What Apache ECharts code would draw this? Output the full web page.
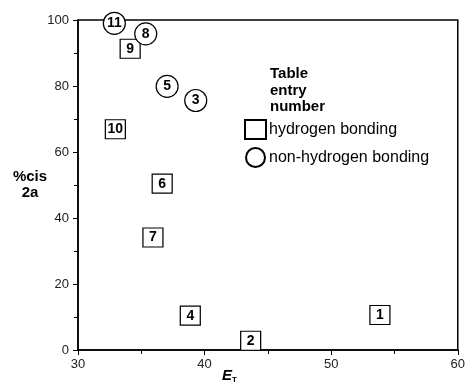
<!DOCTYPE html>
<html>
<head>
<meta charset="utf-8">
<script src="https://cdn.jsdelivr.net/npm/echarts@6/dist/echarts.min.js"></script>
<style>
html,body{margin:0;padding:0;background:#fff}
#main{width:468px;height:383px}
</style>
</head>
<body>
<div id="main"></div>
<script>
// table entries, hydrogen bonding solvents (squares)
var hbEntry = ['1', '2', '4', '6', '7', '9', '10']
var hbET = [53.85, 43.64, 38.87, 36.65, 35.92, 34.12, 32.95]
var hbCis = [10.6, 2.8, 10.4, 50.4, 34.1, 91.3, 66.9]
// non-hydrogen bonding solvents (circles)
var nhbEntry = ['3', '5', '8', '11']
var nhbET = [39.3, 37.04, 35.35, 32.87]
var nhbCis = [75.6, 79.9, 95.8, 99.0]

var xTicks = [30, 40, 50, 60]
var yTicks = [0, 20, 40, 60, 80, 100]

function pts(names, xs, ys){
	var out = []
	for (var i = 0; i < names.length; i++) {
		out.push({name: names[i], value: [xs[i], ys[i]]})
	}
	return out
}

var chart = echarts.init(document.getElementById('main'))

var pointLabel = {
	show: true,
	position: 'inside',
	formatter: '{b}',
	color: '#000',
	fontFamily: 'Liberation Sans',
	fontWeight: 'bold',
	fontSize: 14
}

option = {
	animation: false,
	title: {
		text: 'Table\nentry\nnumber',
		left: 270,
		top: 66,
		padding: 0,
		textStyle: {
			fontFamily: 'Liberation Sans',
			fontWeight: 'bold',
			fontSize: 15,
			lineHeight: 16.5,
			color: '#000'
		}
	},
	legend: {
		orient: 'vertical',
		left: 244,
		top: 119,
		padding: 0,
		itemWidth: 21,
		itemHeight: 19,
		itemGap: 7,
		textStyle: {
			fontFamily: 'Liberation Sans',
			fontSize: 16,
			color: '#000',
			padding: [0, 0, 0, -2]
		},
		data: ['hydrogen bonding', 'non-hydrogen bonding']
	},
	grid: {
		left: 78,
		top: 20,
		right: 6,
		bottom: 33,
		show: true,
		borderColor: '#000',
		borderWidth: 1.5
	},
	xAxis: {
		type: 'value',
		min: xTicks[0],
		max: xTicks[xTicks.length - 1],
		interval: 10,
		axisLine: {lineStyle: {color: '#000', width: 1.5}},
		axisTick: {length: 5, lineStyle: {color: '#000'}},
		minorTick: {show: true, splitNumber: 2, length: 4, lineStyle: {color: '#000'}},
		splitLine: {show: false},
		axisLabel: {
			margin: 8,
			color: '#222',
			fontFamily: 'Liberation Sans',
			fontSize: 13
		}
	},
	yAxis: {
		type: 'value',
		min: yTicks[0],
		max: yTicks[yTicks.length - 1],
		interval: 20,
		axisLine: {lineStyle: {color: '#000', width: 1.5}},
		axisTick: {length: 5, lineStyle: {color: '#000'}},
		minorTick: {show: true, splitNumber: 2, length: 4, lineStyle: {color: '#000'}},
		splitLine: {show: false},
		axisLabel: {
			margin: 9,
			color: '#222',
			fontFamily: 'Liberation Sans',
			fontSize: 13
		}
	},
	graphic: [
		{
			type: 'text',
			x: 30,
			y: 169,
			style: {
				text: '%cis\n2a',
				align: 'center',
				fontFamily: 'Liberation Sans',
				fontWeight: 'bold',
				fontSize: 15,
				lineHeight: 16,
				fill: '#000'
			}
		},
		{
			type: 'text',
			x: 222,
			y: 368,
			style: {
				text: '{e|E}{t|T}',
				rich: {
					e: {fontFamily: 'Liberation Sans', fontWeight: 'bold', fontStyle: 'italic', fontSize: 15, fill: '#000'},
					t: {fontFamily: 'Liberation Sans', fontWeight: 'bold', fontSize: 8, fill: '#000', padding: [8, 0, 0, 0]}
				}
			}
		}
	],
	series: [
		{
			name: 'hydrogen bonding',
			type: 'scatter',
			symbol: 'rect',
			symbolSize: [20, 19],
			clip: false,
			itemStyle: {color: '#fff', borderColor: '#000', borderWidth: 1.2, opacity: 1},
			label: pointLabel,
			data: pts(hbEntry, hbET, hbCis)
		},
		{
			name: 'non-hydrogen bonding',
			type: 'scatter',
			symbol: 'circle',
			symbolSize: 22,
			clip: false,
			itemStyle: {color: '#fff', borderColor: '#000', borderWidth: 1.2, opacity: 1},
			label: pointLabel,
			data: pts(nhbEntry, nhbET, nhbCis)
		}
	]
}

chart.setOption(option)
</script>
</body>
</html>
